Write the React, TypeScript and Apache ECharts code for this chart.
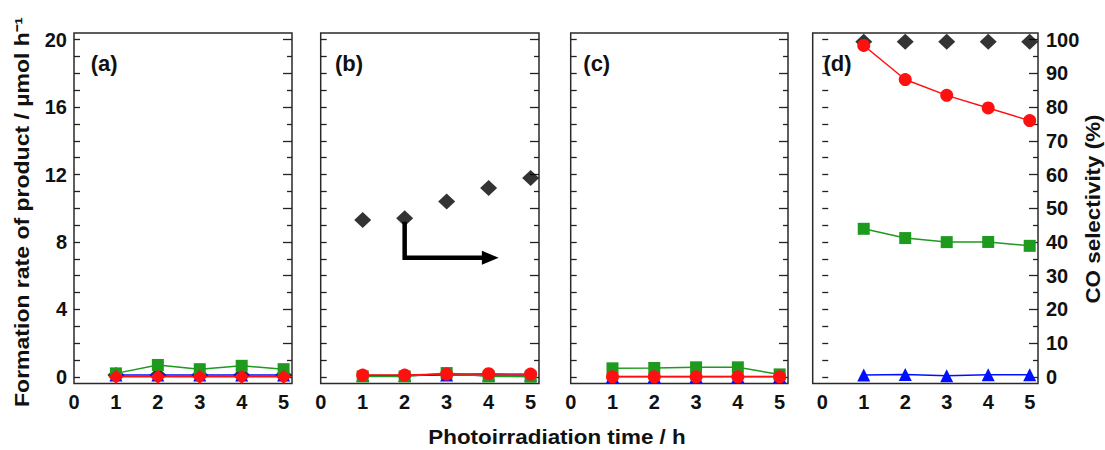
import React, { useEffect, useRef } from "react";
import * as echarts from "echarts";

// Photoirradiation time (h)
const hours = [1, 2, 3, 4, 5];
const timeLabels = [0, 1, 2, 3, 4, 5];

// Formation rate axis (µmol h⁻¹)
const rateLabels = [0, 4, 8, 12, 16, 20];
const rateTicks = [0, 1, 2, 3, 4, 5, 6, 7, 8, 9, 10, 11, 12, 13, 14, 15, 16, 17, 18, 19, 20];

// CO selectivity axis (%)
const selMajor = [0, 10, 20, 30, 40, 50, 60, 70, 80, 90, 100];
const selMinor = [5, 15, 25, 35, 45, 55, 65, 75, 85, 95];

// (a)
const coA = [0, 0, 0, 0, 0];
const h2A = [0.2, 0.7, 0.45, 0.65, 0.45];
const ch4A = [0.1, 0.1, 0.1, 0.1, 0.1];
const selA = [0.5, 0.5, 0.5, 0.5, 0.5];

// (b)
const coB = [0.1, 0.1, 0.16, 0.18, 0.16];
const h2B = [0.02, 0.02, 0.22, 0.02, 0.0];
const ch4B = [0.08, 0.08, 0.1, 0.1, 0.1];
const selB = [46.5, 47, 52, 56, 59];

// (c)
const coC = [0, 0, 0, 0, 0];
const h2C = [0.5, 0.52, 0.56, 0.56, 0.14];
const ch4C = [0.02, 0.02, 0.02, 0.02, 0.02];

// (d)
const coD = [19.66, 17.64, 16.7, 15.95, 15.2];
const h2D = [8.78, 8.23, 7.99, 8.0, 7.77];
const ch4D = [0.1, 0.14, 0.06, 0.12, 0.12];
const selD = [99.4, 99.4, 99.4, 99.4, 99.4];

const panelNames = ["(a)", "(b)", "(c)", "(d)"];

const FONT = "'Liberation Sans', Arial, Helvetica, sans-serif";
const RED = "#ff1010";
const GREEN = "#1e9a1e";
const BLUE = "#0010ff";
const BLACK = "#000000";

type Panel = {
  left: number;
  width: number;
  xMin: number;
  co: number[];
  coSymbol: string;
  h2: number[];
  ch4: number[];
  sel: number[] | null;
  labelX: number;
};

const panels: Panel[] = [
  { left: 74, width: 218, xMin: 0, co: coA, coSymbol: "diamond", h2: h2A, ch4: ch4A, sel: selA, labelX: 90.7 },
  { left: 320.7, width: 218.3, xMin: 0, co: coB, coSymbol: "circle", h2: h2B, ch4: ch4B, sel: selB, labelX: 335 },
  { left: 570.7, width: 217.3, xMin: 0, co: coC, coSymbol: "circle", h2: h2C, ch4: ch4C, sel: null, labelX: 583.3 },
  { left: 812.7, width: 225.3, xMin: -0.23, co: coD, coSymbol: "circle", h2: h2D, ch4: ch4D, sel: selD, labelX: 823.5 },
];

const pts = (ys: number[]) => hours.map((h, i) => [h, ys[i]]);

const tickLabelStyle = {
  fontSize: 20,
  fontWeight: "bold" as const,
  color: "#111",
  fontFamily: FONT,
};

const titleStyle = {
  fontSize: 20,
  fontWeight: "bold",
  fontFamily: FONT,
  fill: "#111",
  align: "center",
  verticalAlign: "middle",
};

export default function App() {
  const ref = useRef<HTMLDivElement>(null);

  useEffect(() => {
    if (!ref.current) return;
    const chart = echarts.init(ref.current, null, { renderer: "svg" });

    const grids: any[] = [];
    const xAxes: any[] = [];
    const yAxes: any[] = [];
    const series: any[] = [];

    panels.forEach((p, i) => {
      grids.push({
        left: p.left,
        top: 33,
        width: p.width,
        height: 350.5,
        show: true,
        borderColor: "#2a2a2a",
        borderWidth: 1.5,
        backgroundColor: "transparent",
      });
      xAxes.push({
        type: "value",
        gridIndex: i,
        min: p.xMin,
        max: 5.2,
        axisLine: { show: false },
        axisTick: { show: false },
        splitLine: { show: false },
        axisLabel: { ...tickLabelStyle, margin: 8, customValues: timeLabels },
      });
      // left: formation rate
      yAxes.push({
        type: "value",
        gridIndex: i,
        position: "left",
        min: -0.4,
        max: 20.4,
        axisLine: { show: false },
        splitLine: { show: false },
        axisTick: {
          show: true,
          inside: true,
          length: 6,
          customValues: rateTicks,
          lineStyle: { color: "#222", width: 1.3 },
        },
        axisLabel: { ...tickLabelStyle, show: i === 0, margin: 7, customValues: rateLabels },
      });
      // right: CO selectivity, major ticks
      yAxes.push({
        type: "value",
        gridIndex: i,
        position: "right",
        min: -2,
        max: 102,
        axisLine: { show: false },
        splitLine: { show: false },
        axisTick: {
          show: true,
          inside: true,
          length: 9,
          customValues: selMajor,
          lineStyle: { color: "#222", width: 1.3 },
        },
        axisLabel: { ...tickLabelStyle, show: i === 3, margin: 8, customValues: selMajor },
      });
      // right: CO selectivity, minor ticks
      yAxes.push({
        type: "value",
        gridIndex: i,
        position: "right",
        min: -2,
        max: 102,
        axisLine: { show: false },
        splitLine: { show: false },
        axisTick: {
          show: true,
          inside: true,
          length: 5,
          customValues: selMinor,
          lineStyle: { color: "#222", width: 1.3 },
        },
        axisLabel: { show: false },
      });

      const yRate = i * 3;
      const ySel = i * 3 + 1;

      if (p.sel) {
        series.push({
          type: "scatter",
          name: "CO selectivity",
          xAxisIndex: i,
          yAxisIndex: ySel,
          data: pts(p.sel),
          symbol: "diamond",
          symbolSize: [17, 16],
          itemStyle: { color: BLACK },
          z: 2,
        });
      }
      series.push({
        type: "line",
        name: "CH4",
        xAxisIndex: i,
        yAxisIndex: yRate,
        data: pts(p.ch4),
        symbol: "triangle",
        symbolSize: 13,
        lineStyle: { color: BLUE, width: 1.5 },
        itemStyle: { color: BLUE },
        z: 3,
      });
      series.push({
        type: "line",
        name: "H2",
        xAxisIndex: i,
        yAxisIndex: yRate,
        data: pts(p.h2),
        symbol: "rect",
        symbolSize: 12,
        lineStyle: { color: GREEN, width: 1.5 },
        itemStyle: { color: GREEN },
        z: 4,
      });
      series.push({
        type: "line",
        name: "CO",
        xAxisIndex: i,
        yAxisIndex: yRate,
        data: pts(p.co),
        symbol: p.coSymbol,
        symbolSize: p.coSymbol === "diamond" ? [15, 14] : 13,
        lineStyle: { color: RED, width: 1.5 },
        itemStyle: { color: RED },
        z: 5,
      });
    });

    const baseGraphic: any[] = [
      ...panels.map((p, i) => ({
        type: "text",
        left: p.labelX,
        top: 52,
        style: {
          text: panelNames[i],
          fontSize: 22,
          fontWeight: "bold",
          fontFamily: FONT,
          fill: "#111",
        },
      })),
      {
        type: "text",
        x: 22,
        y: 212,
        rotation: Math.PI / 2,
        scaleX: 1.15,
        style: { ...titleStyle, text: "Formation rate of product / µmol h⁻¹" },
      },
      {
        type: "text",
        x: 557,
        y: 437,
        scaleX: 1.12,
        style: { ...titleStyle, text: "Photoirradiation time / h" },
      },
      {
        type: "text",
        x: 1093,
        y: 209,
        rotation: Math.PI / 2,
        scaleX: 1.12,
        style: { ...titleStyle, text: "CO selectivity (%)" },
      },
    ];

    chart.setOption({
      animation: false,
      backgroundColor: "#ffffff",
      grid: grids,
      xAxis: xAxes,
      yAxis: yAxes,
      series,
      graphic: baseGraphic,
    });

    // Bent arrow in panel (b), placed in that panel's rate coordinates
    const finder = { xAxisIndex: 1, yAxisIndex: 3 };
    const start = chart.convertToPixel(finder, [2, 9.2]) as number[];
    const corner = chart.convertToPixel(finder, [2, 7.06]) as number[];
    const headBase = chart.convertToPixel(finder, [3.84, 7.06]) as number[];
    const tip = chart.convertToPixel(finder, [4.24, 7.06]) as number[];
    const half = 7;

    chart.setOption({
      graphic: [
        ...baseGraphic,
        {
          type: "polyline",
          shape: { points: [start, corner, [headBase[0] + 1, headBase[1]]] },
          style: { stroke: BLACK, lineWidth: 4.5, fill: null, lineJoin: "miter" },
          z: 10,
        },
        {
          type: "polygon",
          shape: {
            points: [
              [headBase[0], headBase[1] - half],
              [tip[0], tip[1]],
              [headBase[0], headBase[1] + half],
            ],
          },
          style: { fill: BLACK },
          z: 10,
        },
      ],
    });

    return () => chart.dispose();
  }, []);

  return (
    <div
      ref={ref}
      style={{ position: "fixed", left: 0, top: 0, width: 1105, height: 450 }}
    />
  );
}
